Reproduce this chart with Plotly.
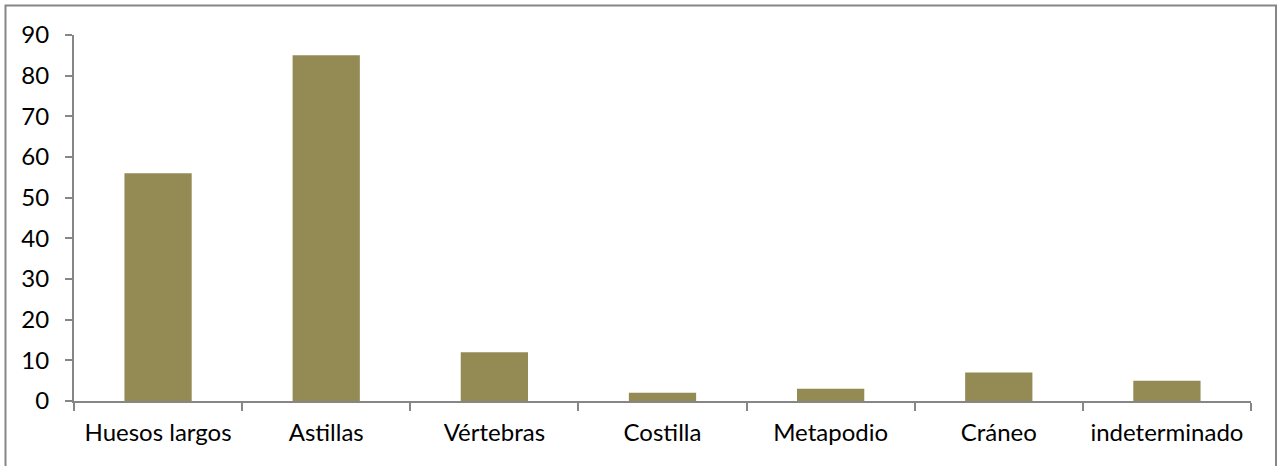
import plotly.graph_objects as go

categories = ["Huesos largos", "Astillas", "Vértebras", "Costilla", "Metapodio", "Cráneo", "indeterminado"]
values = [56, 85, 12, 2, 3, 7, 5]
y_ticks = [0, 10, 20, 30, 40, 50, 60, 70, 80, 90]

W, H = 1284, 466
L, R, T, B = 74, 33, 35, 65
pw, ph = W - L - R, H - T - B

AXIS_COLOR = "#868686"
BAR_COLOR = "#948A54"
FONT = dict(family="Lato, 'Open Sans', sans-serif", size=24, color="#000000")

fig = go.Figure(
    go.Bar(x=categories, y=values, marker=dict(color=BAR_COLOR, line=dict(width=0)))
)

fig.update_layout(
    width=W,
    height=H,
    margin=dict(l=L, r=R, t=T, b=B, pad=0, autoexpand=False),
    paper_bgcolor="white",
    plot_bgcolor="white",
    bargap=0.6,
    showlegend=False,
    font=FONT,
)

fig.update_xaxes(
    type="category",
    automargin=False,
    tickangle=0,
    showgrid=False,
    showline=True,
    linecolor=AXIS_COLOR,
    linewidth=2,
    ticks="outside",
    tickson="boundaries",
    ticklen=8,
    tickwidth=2,
    tickcolor=AXIS_COLOR,
    ticklabelstandoff=9,
    tickfont=FONT,
    zeroline=False,
)

fig.update_yaxes(
    range=[0, 90],
    automargin=False,
    tickvals=y_ticks,
    showgrid=False,
    showline=True,
    linecolor=AXIS_COLOR,
    linewidth=2,
    ticks="outside",
    ticklen=7,
    tickwidth=2,
    tickcolor=AXIS_COLOR,
    ticklabelstandoff=11,
    tickfont=FONT,
    zeroline=False,
)

# chart-area border
fig.add_shape(
    type="rect",
    xref="paper", yref="paper",
    x0=(5.5 - L) / pw, x1=(1276 - L) / pw,
    y0=(H - B - 475) / ph, y1=(H - B - 5.5) / ph,
    line=dict(color=AXIS_COLOR, width=2),
    fillcolor="rgba(0,0,0,0)",
    layer="below",
)

fig.write_html("out.html")
